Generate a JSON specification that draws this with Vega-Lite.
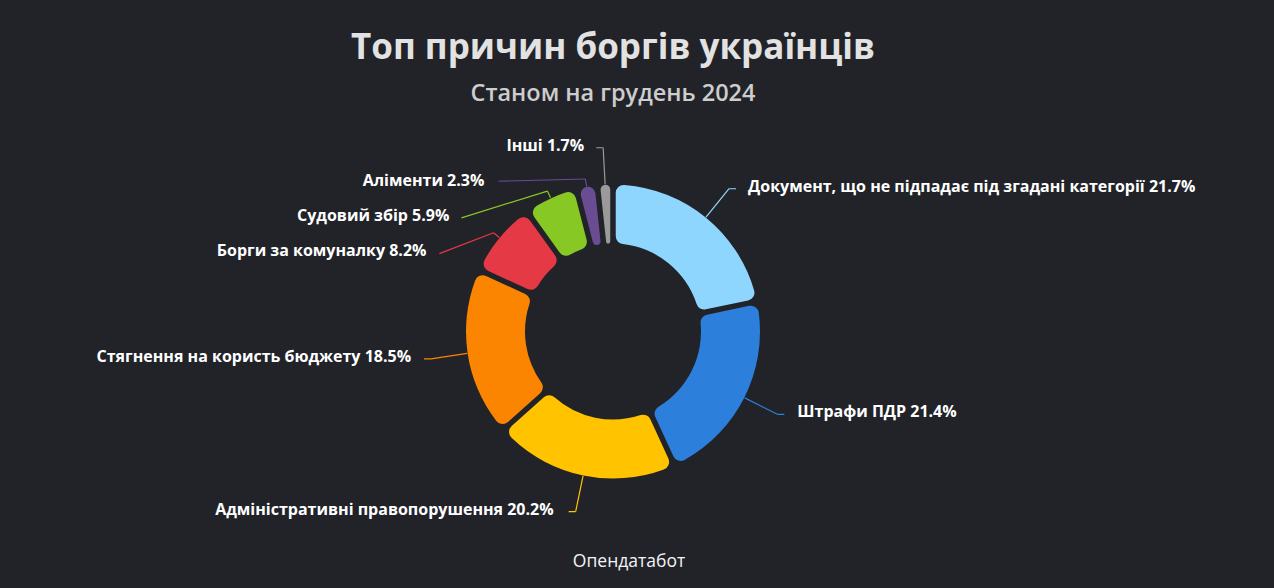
{
  "$schema": "https://vega.github.io/schema/vega-lite/v6.json",
  "background": "#212329",
  "padding": {"left": 5, "right": 53, "top": 30, "bottom": 30},
  "config": {"view": {"stroke": null}, "font": "Open Sans"},
  "title": {
    "text": "Топ причин боргів українців",
    "subtitle": "Станом на грудень 2024",
    "anchor": "middle",
    "frame": "group",
    "font": "Open Sans",
    "fontSize": 35,
    "fontWeight": "bold",
    "color": "#e2e2e2",
    "subtitleFont": "Open Sans",
    "subtitleFontSize": 23.5,
    "subtitleFontWeight": 600,
    "subtitleColor": "#cdcdcd",
    "subtitlePadding": 16,
    "offset": 18
  },
  "vconcat": [
    {
      "width": 1216,
      "height": 417,
      "title": {
        "text": "Опендатабот",
        "orient": "bottom",
        "anchor": "middle",
        "font": "Open Sans",
        "fontSize": 17.5,
        "fontWeight": "normal",
        "color": "#f5f5f5",
        "offset": 13,
        "dx": 16
      },
      "data": {
        "values": [
          {"category": "Документ, що не підпадає під згадані категорії", "value": 21.7, "order": 1, "label": "Документ, що не підпадає під згадані категорії 21.7%"},
          {"category": "Штрафи ПДР", "value": 21.4, "order": 2, "label": "Штрафи ПДР 21.4%"},
          {"category": "Адміністративні правопорушення", "value": 20.2, "order": 3, "label": "Адміністративні правопорушення 20.2%"},
          {"category": "Стягнення на користь бюджету", "value": 18.5, "order": 4, "label": "Стягнення на користь бюджету 18.5%"},
          {"category": "Борги за комуналку", "value": 8.2, "order": 5, "label": "Борги за комуналку 8.2%"},
          {"category": "Судовий збір", "value": 5.9, "order": 6, "label": "Судовий збір 5.9%"},
          {"category": "Аліменти", "value": 2.3, "order": 7, "label": "Аліменти 2.3%"},
          {"category": "Інші", "value": 1.7, "order": 8, "label": "Інші 1.7%"}
        ]
      },
      "transform": [
        {"stack": "value", "groupby": [], "sort": [{"field": "order", "order": "ascending"}], "as": ["v0", "v1"]}
      ],
      "encoding": {
        "color": {
          "field": "category",
          "type": "nominal",
          "legend": null,
          "scale": {
            "domain": ["Документ, що не підпадає під згадані категорії", "Штрафи ПДР", "Адміністративні правопорушення", "Стягнення на користь бюджету", "Борги за комуналку", "Судовий збір", "Аліменти", "Інші"],
            "range": ["#8fd6fe", "#2c7fda", "#ffc300", "#fb8500", "#e63946", "#88c825", "#6a4c93", "#9a9a9a"]
          }
        }
      },
      "layer": [
        {
          "mark": {"type": "arc", "radius": 147, "radius2": 88, "cornerRadius": 8, "padAngle": 0.032},
          "encoding": {
            "theta": {"field": "v0", "type": "quantitative", "stack": null, "scale": {"domain": [0, 99.9]}},
            "theta2": {"field": "v1"}
          }
        },
        {
          "transform": [{"filter": {"field": "order", "oneOf": [1, 2, 3, 4, 8]}}],
          "mark": {"type": "arc", "filled": false, "radius": 184, "radius2": 147.5, "padAngle": 3.1, "strokeWidth": 1.2},
          "encoding": {"theta": {"field": "v0", "type": "quantitative", "stack": null}, "theta2": {"field": "v1"}}
        },
        {
          "transform": [{"filter": {"field": "order", "oneOf": [5, 6, 7]}}],
          "mark": {"type": "arc", "filled": false, "radius": 155, "radius2": 147.5, "padAngle": 3.1, "strokeWidth": 1.2},
          "encoding": {"theta": {"field": "v0", "type": "quantitative", "stack": null}, "theta2": {"field": "v1"}}
        },
        {
          "transform": [{"filter": {"field": "order", "equal": 1}}],
          "mark": {"type": "arc", "filled": false, "radius": 7, "radius2": 0, "padAngle": 3.1, "strokeWidth": 1.2, "xOffset": 116.09, "yOffset": -142.76, "thetaOffset": 0.8884, "theta2Offset": 0.8884},
          "encoding": {"theta": {"field": "v0", "type": "quantitative", "stack": null}, "theta2": {"field": "v1"}}
        },
        {
          "transform": [{"filter": {"field": "order", "equal": 2}}],
          "mark": {"type": "arc", "filled": false, "radius": 7, "radius2": 0, "padAngle": 3.1, "strokeWidth": 1.2, "xOffset": 164.31, "yOffset": 82.84, "thetaOffset": -0.4671, "theta2Offset": -0.4671},
          "encoding": {"theta": {"field": "v0", "type": "quantitative", "stack": null}, "theta2": {"field": "v1"}}
        },
        {
          "transform": [{"filter": {"field": "order", "equal": 3}}],
          "mark": {"type": "arc", "filled": false, "radius": 7, "radius2": 0, "padAngle": 3.1, "strokeWidth": 1.2, "xOffset": -37.34, "yOffset": 180.17, "thetaOffset": 1.3664, "theta2Offset": 1.3664},
          "encoding": {"theta": {"field": "v0", "type": "quantitative", "stack": null}, "theta2": {"field": "v1"}}
        },
        {
          "transform": [{"filter": {"field": "order", "equal": 4}}],
          "mark": {"type": "arc", "filled": false, "radius": 7, "radius2": 0, "padAngle": 3.1, "strokeWidth": 1.2, "xOffset": -181.95, "yOffset": 27.39, "thetaOffset": 0.1494, "theta2Offset": 0.1494},
          "encoding": {"theta": {"field": "v0", "type": "quantitative", "stack": null}, "theta2": {"field": "v1"}}
        },
        {
          "transform": [{"filter": {"field": "order", "equal": 8}}],
          "mark": {"type": "arc", "filled": false, "radius": 7, "radius2": 0, "padAngle": 3.1, "strokeWidth": 1.2, "xOffset": -9.82, "yOffset": -183.74, "thetaOffset": -1.5174, "theta2Offset": -1.5174},
          "encoding": {"theta": {"field": "v0", "type": "quantitative", "stack": null}, "theta2": {"field": "v1"}}
        },
        {
          "transform": [{"filter": {"field": "order", "equal": 5}}],
          "mark": {"type": "arc", "filled": false, "radius": 58, "radius2": 0, "padAngle": 3.1, "strokeWidth": 1.2, "xOffset": -119.5, "yOffset": -98.72, "thetaOffset": -1.0584, "theta2Offset": -1.0584},
          "encoding": {"theta": {"field": "v0", "type": "quantitative", "stack": null}, "theta2": {"field": "v1"}}
        },
        {
          "transform": [{"filter": {"field": "order", "equal": 6}}],
          "mark": {"type": "arc", "filled": false, "radius": 90, "radius2": 0, "padAngle": 3.1, "strokeWidth": 1.2, "xOffset": -65.63, "yOffset": -140.42, "thetaOffset": -1.4354, "theta2Offset": -1.4354},
          "encoding": {"theta": {"field": "v0", "type": "quantitative", "stack": null}, "theta2": {"field": "v1"}}
        },
        {
          "transform": [{"filter": {"field": "order", "equal": 7}}],
          "mark": {"type": "arc", "filled": false, "radius": 87, "radius2": 0, "padAngle": 3.1, "strokeWidth": 1.2, "xOffset": -27.63, "yOffset": -152.52, "thetaOffset": -1.4179, "theta2Offset": -1.4179},
          "encoding": {"theta": {"field": "v0", "type": "quantitative", "stack": null}, "theta2": {"field": "v1"}}
        },
        {
          "transform": [{"filter": {"field": "order", "equal": 1}}],
          "mark": {"type": "text", "radius": 184, "thetaOffset": 0.6824, "dx": 19, "dy": -2, "align": "left", "baseline": "middle", "fontSize": 16, "fontWeight": "bold", "font": "Open Sans"},
          "encoding": {"theta": {"field": "v0", "type": "quantitative", "stack": null}, "text": {"field": "label"}, "color": {"value": "#ffffff"}}
        },
        {
          "transform": [{"filter": {"field": "order", "equal": 2}}],
          "mark": {"type": "text", "radius": 184, "thetaOffset": 0.673, "dx": 20, "dy": -2, "align": "left", "baseline": "middle", "fontSize": 16, "fontWeight": "bold", "font": "Open Sans"},
          "encoding": {"theta": {"field": "v0", "type": "quantitative", "stack": null}, "text": {"field": "label"}, "color": {"value": "#ffffff"}}
        },
        {
          "transform": [{"filter": {"field": "order", "equal": 3}}],
          "mark": {"type": "text", "radius": 184, "thetaOffset": 0.6353, "dx": -22, "dy": -2, "align": "right", "baseline": "middle", "fontSize": 16, "fontWeight": "bold", "font": "Open Sans"},
          "encoding": {"theta": {"field": "v0", "type": "quantitative", "stack": null}, "text": {"field": "label"}, "color": {"value": "#ffffff"}}
        },
        {
          "transform": [{"filter": {"field": "order", "equal": 4}}],
          "mark": {"type": "text", "radius": 184, "thetaOffset": 0.5818, "dx": -20, "dy": -2, "align": "right", "baseline": "middle", "fontSize": 16, "fontWeight": "bold", "font": "Open Sans"},
          "encoding": {"theta": {"field": "v0", "type": "quantitative", "stack": null}, "text": {"field": "label"}, "color": {"value": "#ffffff"}}
        },
        {
          "transform": [{"filter": {"field": "order", "equal": 5}}],
          "mark": {"type": "text", "radius": 155, "thetaOffset": 0.2579, "dx": -67, "dy": 18, "align": "right", "baseline": "middle", "fontSize": 16, "fontWeight": "bold", "font": "Open Sans"},
          "encoding": {"theta": {"field": "v0", "type": "quantitative", "stack": null}, "text": {"field": "label"}, "color": {"value": "#ffffff"}}
        },
        {
          "transform": [{"filter": {"field": "order", "equal": 6}}],
          "mark": {"type": "text", "radius": 155, "thetaOffset": 0.1855, "dx": -98, "dy": 25, "align": "right", "baseline": "middle", "fontSize": 16, "fontWeight": "bold", "font": "Open Sans"},
          "encoding": {"theta": {"field": "v0", "type": "quantitative", "stack": null}, "text": {"field": "label"}, "color": {"value": "#ffffff"}}
        },
        {
          "transform": [{"filter": {"field": "order", "equal": 7}}],
          "mark": {"type": "text", "radius": 155, "thetaOffset": 0.0723, "dx": -101, "dy": 2, "align": "right", "baseline": "middle", "fontSize": 16, "fontWeight": "bold", "font": "Open Sans"},
          "encoding": {"theta": {"field": "v0", "type": "quantitative", "stack": null}, "text": {"field": "label"}, "color": {"value": "#ffffff"}}
        },
        {
          "transform": [{"filter": {"field": "order", "equal": 8}}],
          "mark": {"type": "text", "radius": 184, "thetaOffset": 0.0535, "dx": -19, "dy": -2, "align": "right", "baseline": "middle", "fontSize": 16, "fontWeight": "bold", "font": "Open Sans"},
          "encoding": {"theta": {"field": "v0", "type": "quantitative", "stack": null}, "text": {"field": "label"}, "color": {"value": "#ffffff"}}
        }
      ]
    }
  ]
}
